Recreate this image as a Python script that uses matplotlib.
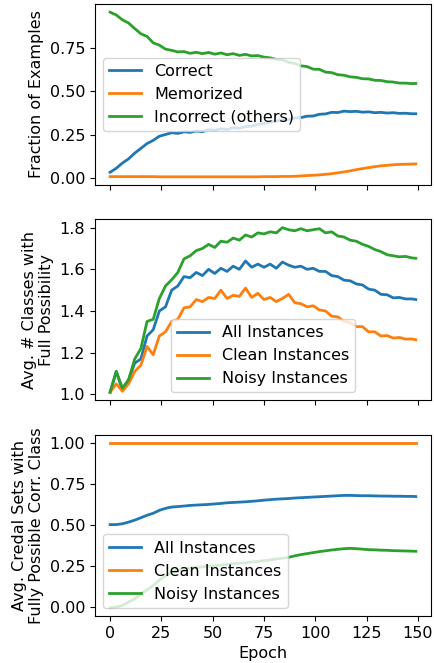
import matplotlib
matplotlib.use("Agg")
import matplotlib.pyplot as plt

plt.rcParams["font.size"] = 11.5

# epochs sampled every 3, last epoch 149
epochs = list(range(0, 150, 3)) + [149]

# panel 1: fraction of examples
correct = [0.035, 0.058, 0.088, 0.112, 0.145, 0.172, 0.200, 0.218, 0.242, 0.252,
           0.262, 0.258, 0.267, 0.264, 0.272, 0.268, 0.280, 0.276, 0.285, 0.281,
           0.291, 0.288, 0.297, 0.300, 0.310, 0.315, 0.324, 0.328, 0.336, 0.338,
           0.347, 0.349, 0.357, 0.358, 0.368, 0.370, 0.379, 0.378, 0.386, 0.383,
           0.385, 0.380, 0.382, 0.377, 0.379, 0.375, 0.377, 0.373, 0.374, 0.371,
           0.371]
memorized = [0.010, 0.010, 0.010, 0.010, 0.010, 0.010, 0.010, 0.010, 0.009, 0.009,
             0.009, 0.009, 0.009, 0.009, 0.009, 0.009, 0.009, 0.009, 0.009, 0.009,
             0.009, 0.009, 0.009, 0.009, 0.009, 0.010, 0.010, 0.010, 0.011, 0.011,
             0.012, 0.014, 0.016, 0.018, 0.020, 0.023, 0.027, 0.032, 0.037, 0.043,
             0.050, 0.056, 0.062, 0.067, 0.072, 0.075, 0.078, 0.080, 0.081, 0.082,
             0.083]
incorrect = [0.954, 0.938, 0.910, 0.892, 0.860, 0.830, 0.815, 0.778, 0.765, 0.742,
             0.735, 0.726, 0.728, 0.718, 0.724, 0.716, 0.723, 0.713, 0.720, 0.710,
             0.716, 0.706, 0.712, 0.703, 0.705, 0.696, 0.692, 0.683, 0.680, 0.666,
             0.660, 0.646, 0.642, 0.627, 0.626, 0.610, 0.607, 0.595, 0.592, 0.583,
             0.580, 0.572, 0.571, 0.563, 0.562, 0.555, 0.553, 0.547, 0.547, 0.544,
             0.545]

# panel 2: avg number of classes with full possibility
full_all = [1.01, 1.11, 1.02, 1.07, 1.15, 1.17, 1.28, 1.31, 1.40, 1.42,
            1.50, 1.52, 1.565, 1.56, 1.585, 1.57, 1.60, 1.58, 1.605, 1.59,
            1.615, 1.60, 1.64, 1.61, 1.625, 1.61, 1.625, 1.605, 1.635, 1.62,
            1.61, 1.615, 1.60, 1.605, 1.59, 1.59, 1.57, 1.565, 1.548, 1.545,
            1.53, 1.525, 1.505, 1.50, 1.48, 1.478, 1.463, 1.465, 1.458, 1.458,
            1.455]
full_clean = [1.01, 1.05, 1.015, 1.05, 1.11, 1.14, 1.23, 1.19, 1.28, 1.30,
              1.35, 1.36, 1.415, 1.42, 1.455, 1.445, 1.465, 1.46, 1.50, 1.46,
              1.475, 1.47, 1.51, 1.465, 1.485, 1.455, 1.465, 1.445, 1.46, 1.48,
              1.44, 1.435, 1.42, 1.425, 1.405, 1.40, 1.375, 1.372, 1.35, 1.345,
              1.325, 1.325, 1.30, 1.30, 1.28, 1.282, 1.27, 1.273, 1.265, 1.266,
              1.262]
full_noisy = [1.01, 1.11, 1.03, 1.07, 1.17, 1.22, 1.35, 1.36, 1.46, 1.52,
              1.55, 1.585, 1.65, 1.665, 1.69, 1.70, 1.72, 1.705, 1.735, 1.73,
              1.75, 1.74, 1.765, 1.755, 1.775, 1.77, 1.78, 1.775, 1.80, 1.79,
              1.785, 1.795, 1.785, 1.79, 1.795, 1.775, 1.78, 1.76, 1.755, 1.74,
              1.735, 1.72, 1.71, 1.695, 1.685, 1.67, 1.665, 1.66, 1.662, 1.655,
              1.653]

# panel 3: credal sets with fully possible correct class
credal_all = [0.503, 0.503, 0.508, 0.518, 0.530, 0.545, 0.560, 0.572, 0.590, 0.602,
              0.610, 0.613, 0.616, 0.620, 0.622, 0.624, 0.626, 0.629, 0.632, 0.636,
              0.638, 0.640, 0.642, 0.645, 0.648, 0.652, 0.655, 0.658, 0.660, 0.662,
              0.665, 0.667, 0.669, 0.671, 0.673, 0.675, 0.677, 0.679, 0.681, 0.681,
              0.680, 0.679, 0.679, 0.678, 0.677, 0.677, 0.676, 0.676, 0.675, 0.675,
              0.674]
credal_clean = [1.0] * len(epochs)
credal_noisy = [-0.004, 0.000, 0.010, 0.030, 0.050, 0.080, 0.105, 0.130, 0.165, 0.190,
                0.210, 0.225, 0.232, 0.238, 0.242, 0.245, 0.248, 0.252, 0.256, 0.260,
                0.264, 0.267, 0.270, 0.274, 0.278, 0.283, 0.288, 0.293, 0.298, 0.303,
                0.312, 0.320, 0.326, 0.332, 0.338, 0.343, 0.348, 0.352, 0.356, 0.358,
                0.356, 0.353, 0.350, 0.349, 0.347, 0.346, 0.344, 0.343, 0.342, 0.341,
                0.340]

fig, axes = plt.subplots(3, 1, figsize=(4.35, 6.63), dpi=100, sharex=True)
fig.subplots_adjust(left=0.218, right=0.991, top=0.994, bottom=0.071, hspace=0.19)

lw = 2
ax = axes[0]
ax.plot(epochs, correct, lw=lw, label="Correct")
ax.plot(epochs, memorized, lw=lw, label="Memorized")
ax.plot(epochs, incorrect, lw=lw, label="Incorrect (others)")
ax.set_yticks([0, 0.25, 0.5, 0.75])
ax.set_ylabel("Fraction of Examples")
ax.legend(loc="center left")

ax = axes[1]
ax.plot(epochs, full_all, lw=lw, label="All Instances")
ax.plot(epochs, full_clean, lw=lw, label="Clean Instances")
ax.plot(epochs, full_noisy, lw=lw, label="Noisy Instances")
ax.set_ylabel("Avg. # Classes with\nFull Possibility")
ax.legend(loc="lower center")

ax = axes[2]
ax.plot(epochs, credal_all, lw=lw, label="All Instances")
ax.plot(epochs, credal_clean, lw=lw, label="Clean Instances")
ax.plot(epochs, credal_noisy, lw=lw, label="Noisy Instances")
ax.set_ylabel("Avg. Credal Sets with\nFully Possible Corr. Class")
ax.set_xlabel("Epoch")
ax.legend(loc="lower left")

fig.savefig("out.png", dpi=100)
